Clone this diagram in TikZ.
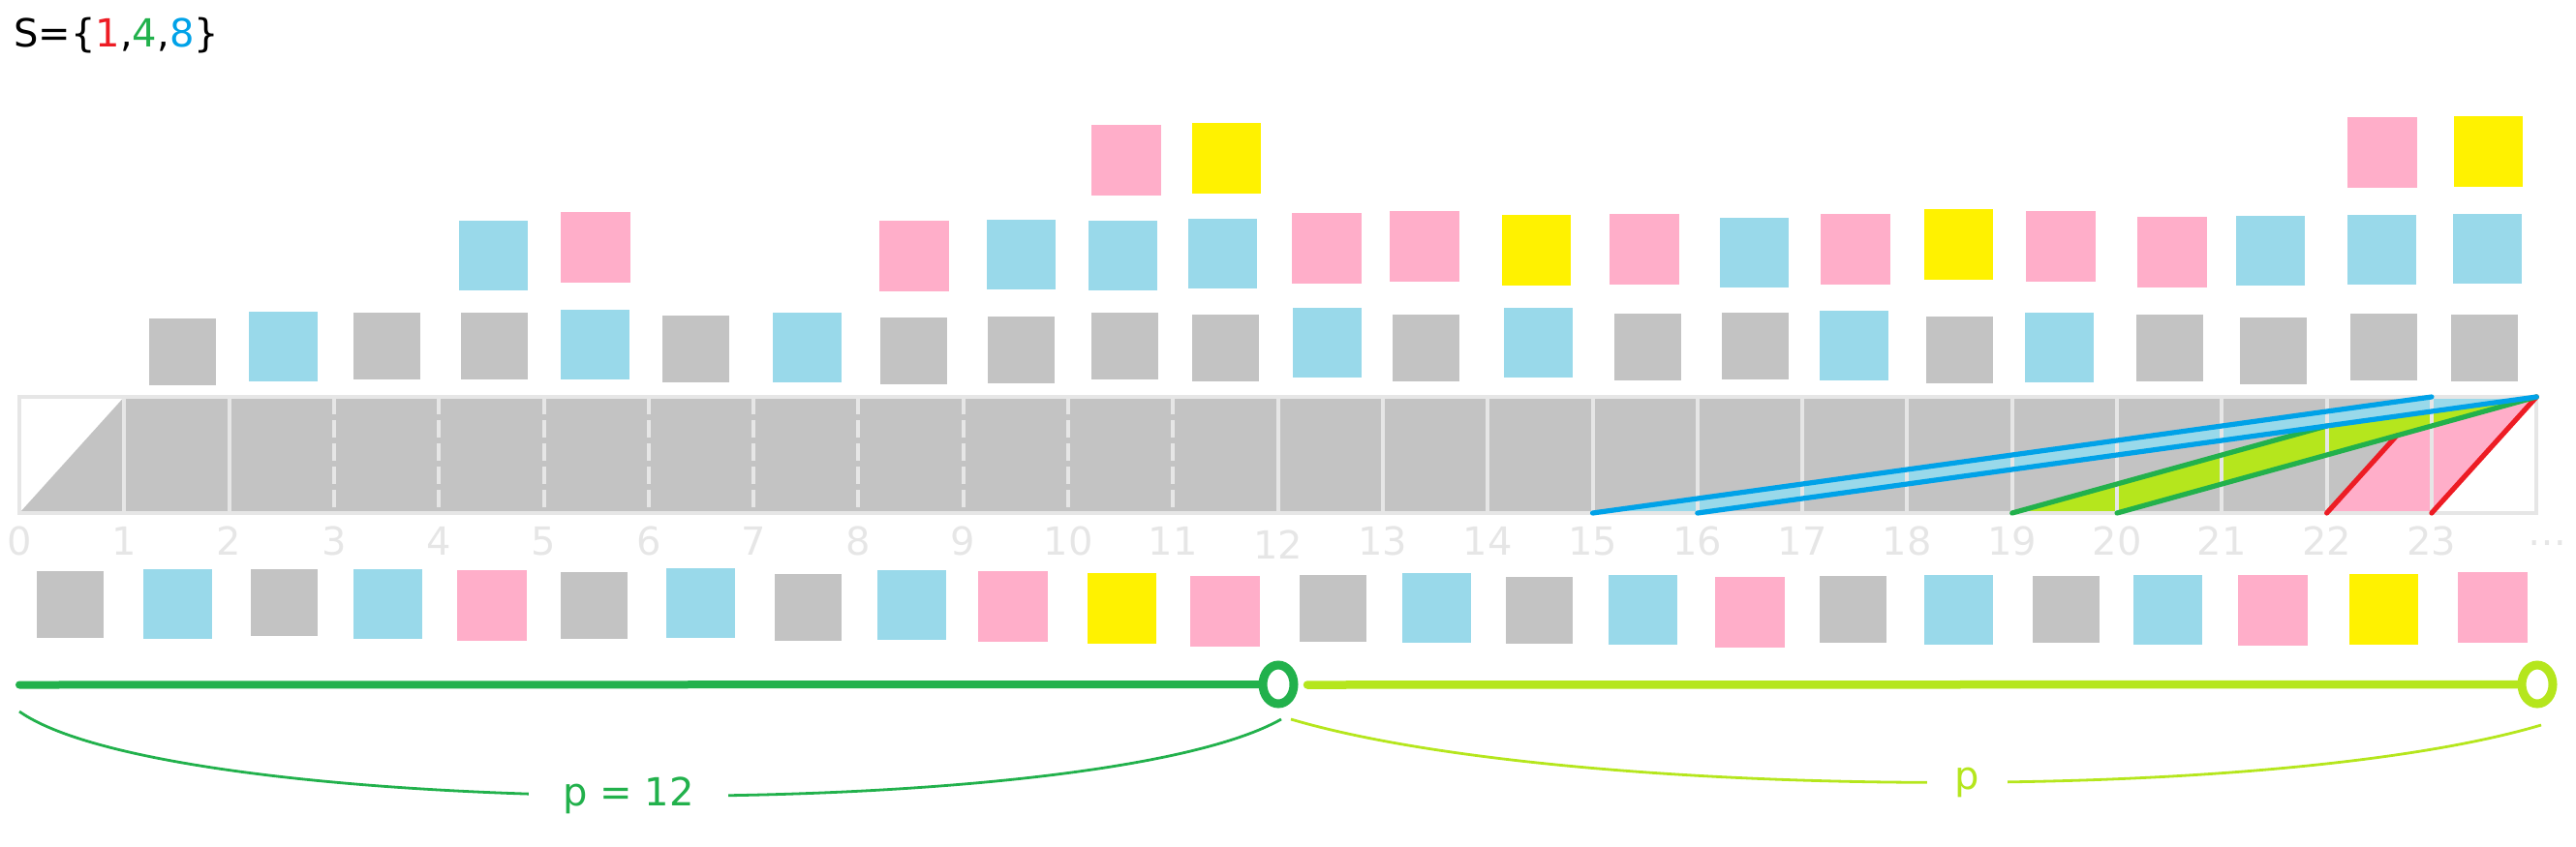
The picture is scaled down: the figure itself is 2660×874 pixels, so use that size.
\documentclass[tikz,border=0pt]{standalone}
\usepackage{fontspec}
\setmainfont{DejaVu Sans}
\usetikzlibrary{calc,shapes.geometric}
\definecolor{cgray}{HTML}{C3C3C3}
\definecolor{cblue}{HTML}{99D9EA}
\definecolor{cpink}{HTML}{FFAEC9}
\definecolor{cyel}{HTML}{FFF200}
\definecolor{cred}{HTML}{ED1C24}
\definecolor{cgreen}{HTML}{22B14C}
\definecolor{clime}{HTML}{B5E61D}
\definecolor{cdblue}{HTML}{00A2E8}
\definecolor{clight}{HTML}{E6E6E6}
\begin{document}
\begin{tikzpicture}[x=0.5pt,y=-0.5pt,
  sq/.style={rectangle,inner sep=0pt,outer sep=0pt,draw=none},
  gsq/.style={sq,fill=cgray,minimum width=34.5pt,minimum height=34.5pt},
  bsq/.style={sq,fill=cblue,minimum width=35.5pt,minimum height=36pt},
  psq/.style={sq,fill=cpink,minimum width=36pt,minimum height=36.5pt},
  ysq/.style={sq,fill=cyel,minimum width=35.5pt,minimum height=36.5pt},
  bigfont/.style={font=\fontsize{20}{24}\selectfont},
  numlbl/.style={bigfont,text=clight,anchor=base,inner sep=0pt},
  cellsep/.style={draw=clight,line width=2pt},
  movestroke/.style={line width=2.6pt,line cap=round},
  ring/.style={ellipse,inner sep=0pt,line width=4.5pt,minimum width=16pt,minimum height=20pt},
  span/.style={line width=1.4pt},
  spanlbl/.style={bigfont,fill=white,inner ysep=2pt},
]
\useasboundingbox (0,0) rectangle (2660,874);

% set label
\node[bigfont,anchor=base west,inner sep=0pt] (set) at (14,48)
  {S=\{\textcolor{cred}{1},\textcolor{cgreen}{4},\textcolor{cdblue}{8}\}};

% cell corner coordinates
\foreach \n in {0,...,24} {
  \coordinate (t\n) at ({20+108.3*\n},410);
  \coordinate (u\n) at ({20+108.3*\n},530);
}

% fills
\fill[cgray] (u0) -- (t1) -- (t23) -- (u22) -- cycle;
\fill[cpink] (u22) -- (t23) -- (t24) -- (u23) -- cycle;
\fill[clime] (u19) -- (t23) -- (t24) -- (u20) -- cycle;
\fill[cblue] (u15) -- (t23) -- (t24) -- (u16) -- cycle;

% separators
\foreach \n in {1,2} \draw[cellsep] (t\n) -- (u\n);
\foreach \n in {3,...,11} \draw[cellsep,dash pattern=on 9pt off 3pt] (t\n) -- (u\n);
\foreach \n in {12,...,23} \draw[cellsep] (t\n) -- (u\n);
\draw[draw=clight,line width=2.25pt] (t0) rectangle (u24);

% move lines
\coordinate (rx) at ($(u22)!2/3!(t23)$);
\coordinate (gx) at ($(u19)!3/4!(t23)$);
\draw[movestroke,cred] (u22) -- (rx);
\draw[movestroke,cred] (u23) -- (t24);
\draw[movestroke,cgreen] (u19) -- (gx);
\draw[movestroke,cgreen] (u20) -- (t24);
\draw[movestroke,cdblue] (u15) -- (t23);
\draw[movestroke,cdblue] (u16) -- (t24);

% number labels
\foreach \n in {0,...,11} \node[numlbl] (l\n) at ({20+108.3*\n},573) {\n};
\node[numlbl] (l12) at ({20+108.3*12},577) {12};
\foreach \n in {13,...,23} \node[numlbl] (l\n) at ({20+108.3*\n},573) {\n};
\node[numlbl] (ldots) at (2630,573) {⋯};

% row C (top)
\node[psq] (c10) at (1163,165.5) {};
\node[ysq] (c11) at (1266.5,163.5) {};
\node[psq] (c22) at (2460,157.5) {};
\node[ysq] (c23) at (2569.5,156.5) {};

% row B
\node[bsq] (b4) at (509.5,264) {};
\node[psq] (b5) at (615,255.5) {};
\node[psq] (b8) at (944,264.5) {};
\node[bsq] (b9) at (1054.5,263) {};
\node[bsq] (b10) at (1159.5,264) {};
\node[bsq] (b11) at (1262.5,262) {};
\node[psq] (b12) at (1370,256.5) {};
\node[psq] (b13) at (1471,254.5) {};
\node[ysq] (b14) at (1586.5,258.5) {};
\node[psq] (b15) at (1698,257.5) {};
\node[bsq] (b16) at (1811.5,261) {};
\node[psq] (b17) at (1916,257.5) {};
\node[ysq] (b18) at (2022.5,252.5) {};
\node[psq] (b19) at (2128,254.5) {};
\node[psq] (b20) at (2243,260.5) {};
\node[bsq] (b21) at (2344.5,259) {};
\node[bsq] (b22) at (2459.5,258) {};
\node[bsq] (b23) at (2568,257) {};

% row A
\node[gsq] (a1) at (188.5,363.5) {};
\node[bsq] (a2) at (292.5,358) {};
\node[gsq] (a3) at (399.5,357.5) {};
\node[gsq] (a4) at (510.5,357.5) {};
\node[bsq] (a5) at (614.5,356) {};
\node[gsq] (a6) at (718.5,360.5) {};
\node[bsq] (a7) at (833.5,359) {};
\node[gsq] (a8) at (943,362.5) {};
\node[gsq] (a9) at (1054.5,361.5) {};
\node[gsq] (a10) at (1161.5,357.5) {};
\node[gsq] (a11) at (1265.5,359.5) {};
\node[bsq] (a12) at (1370.5,354) {};
\node[gsq] (a13) at (1472.5,359.5) {};
\node[bsq] (a14) at (1588.5,354) {};
\node[gsq] (a15) at (1701.5,358.5) {};
\node[gsq] (a16) at (1812.5,357.5) {};
\node[bsq] (a17) at (1914,357) {};
\node[gsq] (a18) at (2023,361.5) {};
\node[bsq] (a19) at (2126.5,359) {};
\node[gsq] (a20) at (2240.5,359.5) {};
\node[gsq] (a21) at (2347,362.5) {};
\node[gsq] (a22) at (2461,358.5) {};
\node[gsq] (a23) at (2565,359.5) {};

% row D (below bar)
\node[gsq] (d0) at (72.5,624.5) {};
\node[bsq] (d1) at (183.5,624) {};
\node[gsq] (d2) at (293.5,622.5) {};
\node[bsq] (d3) at (400.5,624) {};
\node[psq] (d4) at (508,625.5) {};
\node[gsq] (d5) at (613.5,625.5) {};
\node[bsq] (d6) at (723.5,623) {};
\node[gsq] (d7) at (834.5,627.5) {};
\node[bsq] (d8) at (941.5,625) {};
\node[psq] (d9) at (1046,626.5) {};
\node[ysq] (d10) at (1158.5,628.5) {};
\node[psq] (d11) at (1265,631.5) {};
\node[gsq] (d12) at (1376.5,628.5) {};
\node[bsq] (d13) at (1483.5,628) {};
\node[gsq] (d14) at (1589.5,630.5) {};
\node[bsq] (d15) at (1696.5,630) {};
\node[psq] (d16) at (1807,632.5) {};
\node[gsq] (d17) at (1913.5,629.5) {};
\node[bsq] (d18) at (2022.5,630) {};
\node[gsq] (d19) at (2133.5,629.5) {};
\node[bsq] (d20) at (2238.5,630) {};
\node[psq] (d21) at (2347,630.5) {};
\node[ysq] (d22) at (2461.5,629.5) {};
\node[psq] (d23) at (2574,627.5) {};

% period bars
\coordinate (g0) at (20,707.5);
\node[ring,draw=cgreen] (o12) at (1320,707) {};
\draw[cgreen,line width=4pt,line cap=round] (g0) -- (o12);
\coordinate (h0) at (1350,707.5);
\node[ring,draw=clime] (o24) at (2620,707) {};
\draw[clime,line width=4.25pt,line cap=round] (h0) -- (o24);

% spans
\coordinate (k0) at (20,735);
\coordinate (k12) at (1323,743);
\draw[span,cgreen] (k0) .. controls (180,848) and (1130,852) .. (k12)
  node[spanlbl,pos=0.494,inner xsep=17.5pt,text=cgreen] (plab) {p = 12};
\coordinate (m0) at (1333,743);
\coordinate (m24) at (2624,749);
\draw[span,clime] (m0) .. controls (1613,826) and (2344,832) .. (m24)
  node[spanlbl,pos=0.535,inner xsep=14.5pt,text=clime] (qlab) {p};
\end{tikzpicture}
\end{document}
